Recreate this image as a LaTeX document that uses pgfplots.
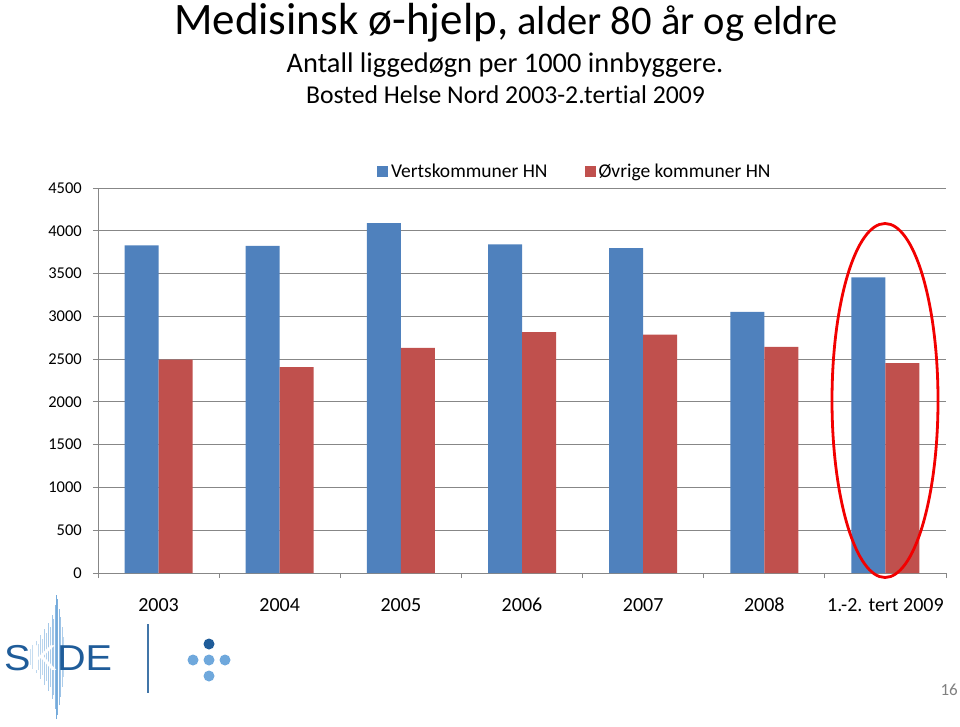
\documentclass[border=0pt]{standalone}
\usepackage{pgfplots}
\pgfplotsset{compat=1.18}
\usepackage{fontspec}
\setmainfont{Carlito}[Ligatures=NoCommon]
\newfontfamily\arialfont{Liberation Sans}
\definecolor{barblue}{HTML}{4F81BD}
\definecolor{barred}{HTML}{C0504D}
\definecolor{gridgray}{HTML}{878787}
\definecolor{logoblue}{HTML}{1F5C99}
\definecolor{logolight}{HTML}{6FA8DC}
\definecolor{burst}{HTML}{5B9BD5}
\begin{document}
\begin{tikzpicture}[x=1pt,y=1pt]
\path[use as bounding box] (0,0) rectangle (960,726);
% titles
\node[anchor=base, inner sep=0pt] at (506,691) {\fontsize{45}{54}\selectfont Medisinsk ø-hjelp,\fontsize{40.5}{48}\selectfont{} alder 80 år og eldre};
\node[anchor=base, inner sep=0pt] at (505,653) {\fontsize{28.4}{34}\selectfont Antall liggedøgn per 1000 innbyggere.};
\node[anchor=base, inner sep=0pt] at (505.5,622) {\fontsize{25.7}{30}\selectfont Bosted Helse Nord 2003-2.tertial 2009};
\begin{axis}[
  at={(98pt,153pt)}, anchor=south west,
  width=848pt, height=385pt, scale only axis,
  xmin=-0.5, xmax=6.5, ymin=0, ymax=4500,
  ybar=0pt, bar width=34pt,
  xtick={-0.5,0.5,1.5,2.5,3.5,4.5,5.5,6.5},
  xticklabels={,,,,,,,},
  extra x ticks={0,1,2,3,4,5,6},
  extra x tick labels={2003,2004,2005,2006,2007,2008,{1.-2. tert 2009}},
  extra x tick style={major tick length=0pt, xticklabel style={anchor=base, yshift=-38pt, font=\fontsize{20}{24}\selectfont}},
  ytick={0,500,...,4500},
  axis x line*=bottom, axis y line*=left,
  axis line style={gridgray, line width=0.8pt, -},
  ymajorgrids, major grid style={gridgray, line width=0.8pt},
  tick align=outside, major tick length=5pt,
  tick style={gridgray, line width=0.8pt},
  yticklabel style={font=\fontsize{16.5}{20}\selectfont, anchor=east, inner sep=0pt, xshift=-11pt},
  /pgf/number format/assume math mode=true,
  /pgf/number format/1000 sep={},
  legend columns=2,
  legend style={draw=none, fill=none, at={(0.561,1.044)}, anchor=center,
    font=\fontsize{19.5}{23}\selectfont,
    nodes={inner xsep=0pt},
    /tikz/every even column/.append style={column sep=37pt}},
  legend image code/.code={\fill[#1] (0pt,-5.5pt) rectangle (11pt,5.5pt); \path (14pt,0pt);},
]
\addplot[fill=barblue, draw=none] coordinates {(0,3828) (1,3825) (2,4090) (3,3840) (4,3797) (5,3053) (6,3454)};
\addplot[fill=barred, draw=none] coordinates {(0,2495) (1,2406) (2,2632) (3,2815) (4,2787) (5,2643) (6,2453)};
\legend{Vertskommuner HN, Øvrige kommuner HN}
\end{axis}
% highlight ellipse
\draw[red!95!black, line width=2.8pt] (885,325.5) ellipse [x radius=53, y radius=177];
% logo starburst
\foreach \dx/\h/\o in {-27/8/0.3,-25/12/0.35,-23/10/0.3,-21/16/0.4,-19/13/0.35,-17/22/0.45,-15/18/0.4,-13/28/0.5,-11/24/0.45,-9/34/0.55,-7/30/0.5,-5/42/0.6,-3.5/38/0.55,-2/52/0.7,-0.8/62/0.85,0.5/58/0.8,2/48/0.7,3.5/40/0.6,5/30/0.5,6.5/20/0.4}{
  \draw[burst, opacity=\o, line width=0.9pt] (57+\dx,69-\h) -- (57+\dx,69+\h);
}
\node[anchor=base west, inner sep=0pt, text=logoblue, xscale=1.1] at (4,56) {\arialfont\fontsize{36}{40}\selectfont S\textcolor{white}{K}DE};
\draw[logoblue!85, line width=1.6pt] (148,102) -- (148,33);
\fill[logoblue] (209,82) circle (5.5);
\fill[logolight] (193,66) circle (5.5);
\fill[logolight] (209,66) circle (5.5);
\fill[logolight] (225,66) circle (5.5);
\fill[logolight] (209,50) circle (5.5);
% page number
\node[anchor=base east, inner sep=0pt, text=gray] at (958,31) {\fontsize{17}{20}\selectfont 16};
\end{tikzpicture}
\end{document}
